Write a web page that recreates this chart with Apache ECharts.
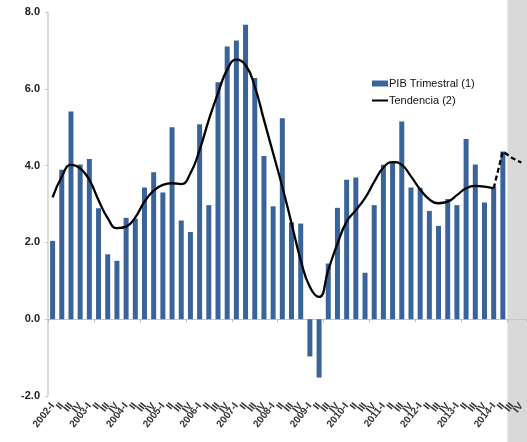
<!DOCTYPE html>
<html><head><meta charset="utf-8">
<script src="https://cdn.jsdelivr.net/npm/echarts@6/dist/echarts.min.js"></script>
<style>html,body{margin:0;padding:0;background:#fff}#c{width:527px;height:442px}</style>
</head><body><div id="c"></div>
<script>
const years = [2002,2003,2004,2005,2006,2007,2008,2009,2010,2011,2012,2013,2014];
const quarters = ['I','II','III','IV'];
const pibTrimestral = [2.04,3.89,5.41,4.03,4.17,2.89,1.69,1.52,2.64,2.62,3.43,3.83,3.30,5.00,2.57,2.27,5.08,2.97,6.17,7.10,7.26,7.67,6.28,4.25,2.94,5.23,2.52,2.49,-0.97,-1.52,1.45,2.90,3.63,3.69,1.21,2.97,4.02,4.08,5.15,3.43,3.42,2.82,2.43,3.13,2.97,4.69,4.03,3.04,3.45,4.37];
const tendencia = [3.17,3.71,4.02,3.93,3.63,3.10,2.63,2.37,2.41,2.65,3.06,3.35,3.50,3.54,3.52,3.80,4.41,5.19,5.89,6.50,6.76,6.62,6.06,5.19,4.32,3.45,2.50,1.54,0.84,0.58,1.28,1.97,2.54,2.84,3.15,3.58,3.95,4.09,4.02,3.72,3.38,3.12,3.02,3.06,3.23,3.41,3.47,3.45,3.41];
const proyeccion = [3.41,4.37,4.20,4.08];
const yMin = -2, yMax = 8, yStep = 2;

const categories = [];
years.forEach(y => quarters.forEach((q, i) => categories.push(i === 0 ? y + '-' + q : q)));

const nCat = categories.length;
const trendData = categories.map((c, i) => i < tendencia.length ? tendencia[i] : null);
const startProj = nCat - proyeccion.length;
const projData = categories.map((c, i) => i >= startProj ? proyeccion[i - startProj] : null);
const barData = categories.map((c, i) => i < pibTrimestral.length ? pibTrimestral[i] : null);

const chart = echarts.init(document.getElementById('c'), null, {renderer: 'canvas'});
const font = 'Liberation Sans, Arial, sans-serif';
chart.setOption({
  animation: false,
  textStyle: {fontFamily: font},
  grid: {left: 48, right: -2, top: 12, bottom: 46, containLabel: false},
  legend: {
    orient: 'vertical', left: 366, top: 73, itemGap: 6,
    itemWidth: 16, itemHeight: 6,
    textStyle: {fontSize: 11, color: '#111', fontFamily: font, padding: [0,0,0,-4]},
    data: [
      {name: 'PIB Trimestral (1)', icon: 'rect'},
      {name: 'Tendencia (2)', itemStyle: {opacity: 0}, lineStyle: {color: '#000', width: 2}}
    ]
  },
  xAxis: [{
    type: 'category', data: categories, position: 'bottom',
    axisLine: {onZero: true, lineStyle: {color: '#c8c8c8', width: 1}},
    axisTick: {show: true, length: 3, lineStyle: {color: '#bbbbbb'}},
    axisLabel: {show: false}, splitLine: {show: false}
  }, {
    type: 'category', data: categories, position: 'bottom',
    axisLine: {show: false, onZero: false}, axisTick: {show: false},
    axisLabel: {interval: 0, rotate: 52, margin: 8, fontSize: 10, fontWeight: 'bold', color: '#333', fontFamily: font},
    splitLine: {show: false}
  }],
  yAxis: {
    type: 'value', min: yMin, max: yMax, interval: yStep,
    axisLine: {show: true, lineStyle: {color: '#d0d0d0', width: 1.5}},
    axisTick: {show: true, length: 3, lineStyle: {color: '#c8c8c8'}},
    axisLabel: {margin: 8, fontSize: 11, fontWeight: 'bold', color: '#222', formatter: v => v.toFixed(1)},
    splitLine: {show: false}
  },
  series: [{
    name: 'PIB Trimestral (1)', type: 'bar', data: barData, xAxisIndex: 0,
    barWidth: 5, itemStyle: {color: '#3a6499'}
  }, {
    name: 'Tendencia (2)', type: 'line', data: trendData, xAxisIndex: 0,
    smooth: 0.5, symbol: 'none', lineStyle: {color: '#000', width: 2.3},
    itemStyle: {color: '#000'}
  }, {
    name: 'proy', type: 'line', data: projData, xAxisIndex: 0,
    smooth: false, symbol: 'none', lineStyle: {color: '#000', width: 2.3, type: [5, 3]}
  }]
});

const grayStart = pibTrimestral.length;
const p1 = chart.convertToPixel({xAxisIndex: 0}, categories[grayStart + 1]);
const p0 = chart.convertToPixel({xAxisIndex: 0}, categories[grayStart]);
const band = p1 - p0;
const xStart = p0 - band / 2;
chart.setOption({
  graphic: [{
    type: 'rect', z: -10, silent: true,
    shape: {x: xStart, y: 0, width: 527 - xStart, height: 442},
    style: {fill: '#d9d9d9'}
  }]
});
</script></body></html>
